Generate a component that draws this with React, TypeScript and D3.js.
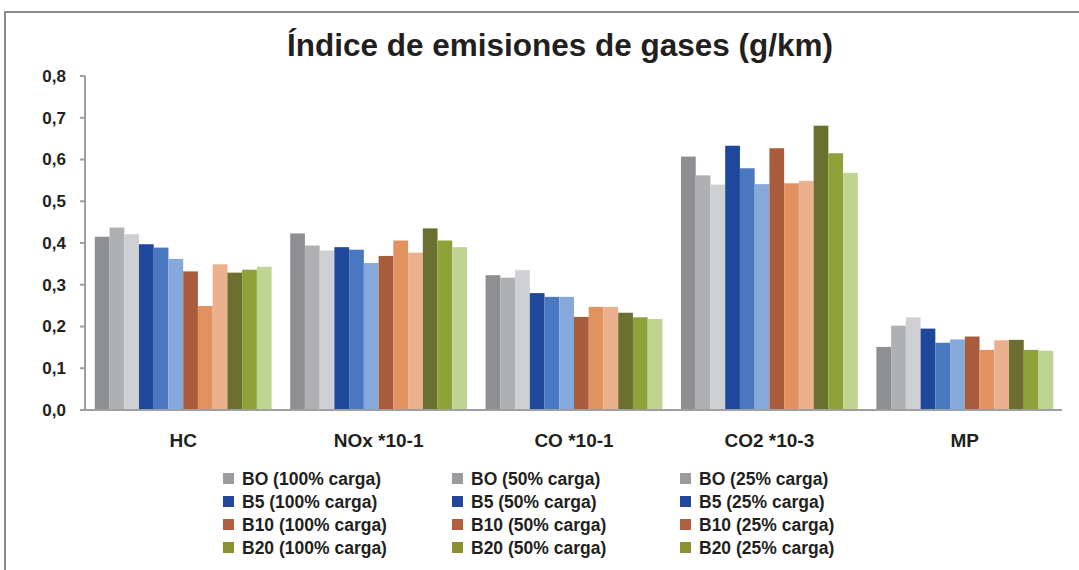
import React from "react";
import * as d3 from "d3";

const categories = ["HC", "NOx *10-1", "CO *10-1", "CO2 *10-3", "MP"];
const seriesNames = [
  "BO (100% carga)", "BO (50% carga)", "BO (25% carga)",
  "B5 (100% carga)", "B5 (50% carga)", "B5 (25% carga)",
  "B10 (100% carga)", "B10 (50% carga)", "B10 (25% carga)",
  "B20 (100% carga)", "B20 (50% carga)", "B20 (25% carga)",
];
// values per category, in series order
const hcValues = [0.415, 0.437, 0.421, 0.397, 0.389, 0.362, 0.332, 0.249, 0.349, 0.329, 0.336, 0.343];
const noxValues = [0.423, 0.394, 0.382, 0.390, 0.384, 0.352, 0.369, 0.406, 0.377, 0.435, 0.406, 0.390];
const coValues = [0.323, 0.317, 0.335, 0.280, 0.271, 0.271, 0.223, 0.247, 0.247, 0.233, 0.222, 0.218];
const co2Values = [0.607, 0.562, 0.540, 0.633, 0.579, 0.541, 0.627, 0.543, 0.549, 0.681, 0.615, 0.568];
const mpValues = [0.151, 0.202, 0.222, 0.195, 0.161, 0.169, 0.176, 0.144, 0.167, 0.168, 0.144, 0.142];
const values = [hcValues, noxValues, coValues, co2Values, mpValues];
const yTicks = [0, 0.1, 0.2, 0.3, 0.4, 0.5, 0.6, 0.7, 0.8];

const barColors = [
  "#8e8f93", "#afb0b3", "#cfd0d3",
  "#1f479c", "#4a78c0", "#86a9dc",
  "#a95c3c", "#e1925f", "#ebb08e",
  "#6b7030", "#8fa23a", "#bed591",
];
const legendColors = [
  "#9a9b9e", "#9a9b9e", "#9a9b9e",
  "#22479a", "#22479a", "#22479a",
  "#b05f40", "#b05f40", "#b05f40",
  "#8a9030", "#8a9030", "#8a9030",
];

export default function App() {
  const W = 1079, H = 570;
  const x0 = d3.scaleBand<string>().domain(categories).range([85, 1063]).paddingInner(0.095).paddingOuter(0.05);
  const x1 = d3.scaleBand<number>().domain(d3.range(12)).range([0, x0.bandwidth()]);
  const y = d3.scaleLinear().domain([0, 0.8]).range([410, 76]);
  const font = "'Liberation Sans', Arial, Helvetica, sans-serif";
  const axisColor = "#9d9fa2";
  const legendCols = [223, 452, 680];
  const legendRows = [479, 502, 525, 548];
  return (
    <div style={{ position: "absolute", left: 0, top: 0 }}>
      <svg width={W} height={H} style={{ display: "block" }}>
        <rect x={0} y={0} width={W} height={H} fill="#ffffff" />
        <path d={`M5,${H + 2}V12H${W + 2}`} fill="none" stroke="#8a8b8d" strokeWidth={2} />
        <text x={560} y={56} textAnchor="middle" fontFamily={font} fontWeight="bold" fontSize={32} fill="#231f20"
          textLength={546} lengthAdjust="spacingAndGlyphs">
          Índice de emisiones de gases (g/km)
        </text>
        {/* y axis */}
        <line x1={85} x2={85} y1={y(0.8)} y2={y(0)} stroke={axisColor} strokeWidth={2} />
        {yTicks.map((t) => (
          <g key={t}>
            <line x1={80} x2={85} y1={y(t)} y2={y(t)} stroke={axisColor} strokeWidth={2} />
            <text x={66} y={y(t)} dy="0.35em" textAnchor="end" fontFamily={font} fontWeight="bold" fontSize={17} fill="#231f20">
              {t.toFixed(1).replace(".", ",")}
            </text>
          </g>
        ))}
        {/* bars */}
        {categories.map((c, ci) => (
          <g key={c} transform={`translate(${x0(c)},0)`}>
            {values[ci].map((v, si) => (
              <rect key={si} x={x1(si)} width={x1.bandwidth()} y={y(v)} height={y(0) - y(v)} fill={barColors[si]} />
            ))}
          </g>
        ))}
        <line x1={80} x2={1062} y1={y(0)} y2={y(0)} stroke={axisColor} strokeWidth={2} />
        {categories.map((c) => (
          <text key={c} x={(x0(c) ?? 0) + x0.bandwidth() / 2} y={447} textAnchor="middle" fontFamily={font} fontWeight="bold" fontSize={19} fill="#231f20">
            {c}
          </text>
        ))}
        {/* legend: column = load, row = fuel */}
        {seriesNames.map((s, si) => {
          const row = Math.floor(si / 3);
          const col = si % 3;
          const lx = legendCols[col];
          const ly = legendRows[row];
          return (
            <g key={s}>
              <rect x={lx} y={ly - 6} width={11} height={11} fill={legendColors[si]} />
              <text x={lx + 19} y={ly} dy="0.35em" fontFamily={font} fontWeight="bold" fontSize={17.5} fill="#231f20">
                {s}
              </text>
            </g>
          );
        })}
      </svg>
    </div>
  );
}
